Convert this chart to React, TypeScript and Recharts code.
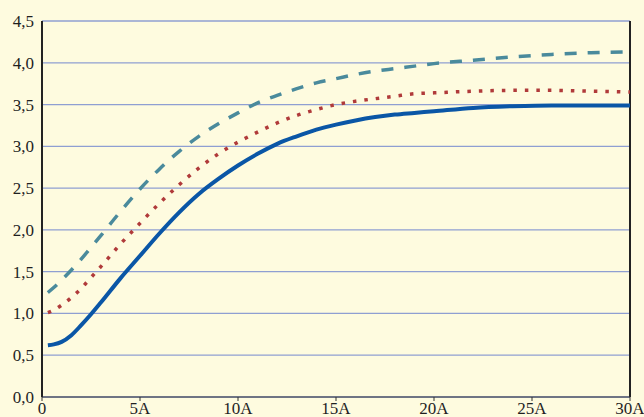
import React from "react";
import { LineChart, Line, XAxis, YAxis, CartesianGrid, ReferenceLine } from "recharts";

const xValues = [0.3, 0.6, 1, 1.5, 2, 2.5, 3, 4, 5, 6, 7, 8, 9, 10, 11, 12, 13, 14, 15, 16, 17, 18, 19, 20, 22, 24, 26, 28, 30];
const solidSeries = [0.62, 0.63, 0.66, 0.74, 0.86, 0.99, 1.13, 1.42, 1.69, 1.96, 2.21, 2.43, 2.61, 2.77, 2.91, 3.03, 3.12, 3.2, 3.26, 3.31, 3.35, 3.38, 3.4, 3.42, 3.46, 3.48, 3.49, 3.49, 3.49];
const dottedSeries = [1.01, 1.04, 1.1, 1.19, 1.3, 1.43, 1.56, 1.83, 2.08, 2.32, 2.54, 2.74, 2.91, 3.05, 3.17, 3.28, 3.37, 3.44, 3.5, 3.54, 3.57, 3.6, 3.63, 3.64, 3.66, 3.67, 3.67, 3.66, 3.65];
const dashedSeries = [1.25, 1.31, 1.4, 1.52, 1.65, 1.79, 1.93, 2.22, 2.49, 2.73, 2.94, 3.12, 3.27, 3.4, 3.52, 3.61, 3.69, 3.76, 3.81, 3.86, 3.9, 3.93, 3.96, 3.99, 4.03, 4.07, 4.1, 4.12, 4.13];
const xTicks = [0, 5, 10, 15, 20, 25, 30];
const yTicks = [0, 0.5, 1, 1.5, 2, 2.5, 3, 3.5, 4, 4.5];

const data = xValues.map((x, i) => ({
  x,
  solid: solidSeries[i],
  dotted: dottedSeries[i],
  dashed: dashedSeries[i],
}));

const serif = "Liberation Serif";
const font = { fontFamily: serif, fontSize: 17, fill: "#1f1f1f" };

export default function App() {
  return (
    <div style={{ position: "absolute", left: 0, top: 0, width: 644, height: 417, background: "#fefbdf", fontFamily: serif }}>
      <style>{`.recharts-cartesian-axis-tick-value, .recharts-text { font-family: "Liberation Serif", "Times New Roman", serif; }`}</style>
      <LineChart width={644} height={417} data={data} margin={{ top: 21, right: 14, bottom: 0, left: 0 }}>
        <CartesianGrid vertical={false} stroke="#8f9fd2" strokeWidth={1.3} />
        <XAxis
          dataKey="x"
          type="number"
          domain={[0, 30]}
          ticks={xTicks}
          tickFormatter={(v: number) => (v === 0 ? "0" : `${v}A`)}
          height={20}
          tickSize={4}
          tickMargin={1}
          axisLine={{ stroke: "#333", strokeWidth: 1 }}
          tickLine={{ stroke: "#333" }}
          tick={font}
          interval={0}
        />
        <YAxis
          type="number"
          domain={[0, 4.5]}
          ticks={yTicks}
          width={42}
          tickLine={false}
          axisLine={{ stroke: "#222", strokeWidth: 2 }}
          tickFormatter={(v: number) => v.toFixed(1).replace(".", ",")}
          tick={font}
          interval={0}
        />
        <ReferenceLine x={30} stroke="#222" strokeWidth={2} />
        <Line type="monotone" dataKey="dashed" stroke="#4a8a9c" strokeWidth={3.5} strokeDasharray="12 11" dot={false} isAnimationActive={false} />
        <Line type="monotone" dataKey="dotted" stroke="#b03a3a" strokeWidth={3.5} strokeDasharray="3.5 8" dot={false} isAnimationActive={false} />
        <Line type="monotone" dataKey="solid" stroke="#0a56a6" strokeWidth={4} dot={false} isAnimationActive={false} />
      </LineChart>
    </div>
  );
}
